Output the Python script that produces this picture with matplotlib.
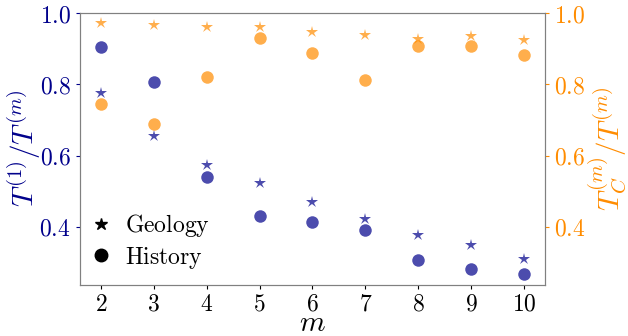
import matplotlib
matplotlib.use("Agg")
import matplotlib.pyplot as plt
from matplotlib.lines import Line2D

plt.rcParams['mathtext.fontset'] = 'cm'
plt.rcParams['font.family'] = 'serif'
plt.rcParams['font.serif'] = ['DejaVu Serif']

# data
m = [2, 3, 4, 5, 6, 7, 8, 9, 10]
geology_ratio = [0.776, 0.655, 0.574, 0.523, 0.471, 0.421, 0.377, 0.349, 0.310]
history_ratio = [0.905, 0.807, 0.541, 0.431, 0.414, 0.391, 0.307, 0.282, 0.268]
geology_core = [0.972, 0.968, 0.961, 0.962, 0.946, 0.939, 0.927, 0.937, 0.925]
history_core = [0.745, 0.690, 0.820, 0.931, 0.888, 0.811, 0.907, 0.909, 0.883]

left_ticks = [0.4, 0.6, 0.8, 1.0]
right_ticks = [0.4, 0.6, 0.8, 1.0]

blue = 'darkblue'
orange = 'darkorange'

fig = plt.figure(figsize=(6.28, 3.36), dpi=100)
ax = fig.add_axes([0.127, 0.152, 0.741, 0.809])
ax2 = ax.twinx()

ax.plot(m, geology_ratio, '*', color=blue, alpha=0.7, markersize=9, markeredgewidth=0)
ax.plot(m, history_ratio, 'o', color=blue, alpha=0.7, markersize=9, markeredgewidth=0)
ax2.plot(m, geology_core, '*', color=orange, alpha=0.7, markersize=9, markeredgewidth=0)
ax2.plot(m, history_core, 'o', color=orange, alpha=0.7, markersize=9, markeredgewidth=0)

ax.set_ylim(0.237, 1.0)
ax2.set_ylim(0.237, 1.0)
ax.set_xticks(m)
ax.set_xticklabels([r'$%d$' % v for v in m])
ax.set_yticks(left_ticks)
ax.set_yticklabels([r'$%.1f$' % v for v in left_ticks])
ax2.set_yticks(right_ticks)
ax2.set_yticklabels([r'$%.1f$' % v for v in right_ticks])

ax.tick_params(axis='y', colors=blue, labelsize=17, length=3)
ax2.tick_params(axis='y', colors=orange, labelsize=17, length=3)
ax.tick_params(axis='x', colors='black', labelsize=17, length=3, pad=2.5)

for a in (ax, ax2):
    for s in a.spines.values():
        s.set_color('grey')

ax.set_xlabel(r'$m$', fontsize=21, va='baseline')
ax.set_ylabel(r'$T^{(1)}/T^{(m)}$', fontsize=21, color=blue)
ax2.set_ylabel(r'$T_C^{(m)}/T^{(m)}$', fontsize=21, color=orange, rotation=90)
ax.xaxis.set_label_coords(0.5, -0.17)
ax.yaxis.set_label_coords(-0.12, 0.5)
ax2.yaxis.set_label_coords(1.133, 0.5)
ax2.yaxis.label.set_va('center')
ax.yaxis.label.set_va('center')

handles = [
    Line2D([], [], marker='*', linestyle='none', color='black', markersize=9),
    Line2D([], [], marker='o', linestyle='none', color='black', markersize=9),
]
ax.legend(handles, [r'$\mathrm{Geology}$', r'$\mathrm{History}$'], loc='lower left',
          frameon=False, fontsize=17, handletextpad=0.5, borderaxespad=0.2,
          handlelength=1.0, labelspacing=0.25, bbox_to_anchor=(-0.01, 0.0))

fig.savefig('out.png', dpi=100)
